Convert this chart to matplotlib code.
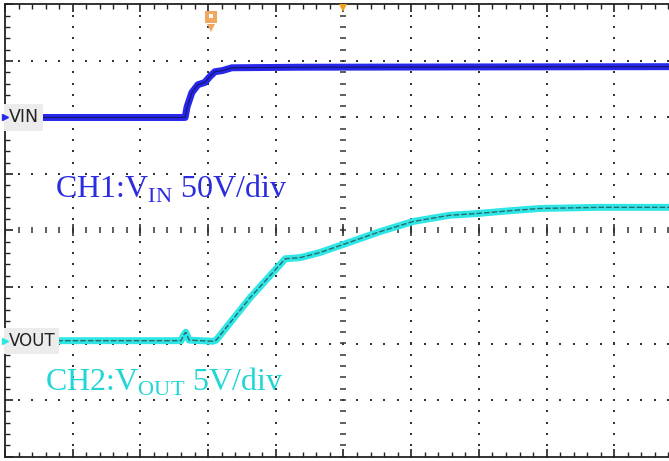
import numpy as np
import matplotlib.pyplot as plt
from matplotlib import ticker

vin_x = [0.41, 2.63, 2.66, 2.69, 2.76, 2.85, 2.95, 3.03, 3.10, 3.21, 3.35, 4.36, 9.9]
vin_y = [2.00, 2.00, 2.00, 2.19, 2.44, 2.58, 2.62, 2.73, 2.81, 2.83, 2.88, 2.89, 2.90]

vout_x = [0.66, 2.60, 2.64, 2.67, 2.72, 3.07, 3.12, 3.62, 4.14, 4.36, 4.65, 4.99,
          5.54, 6.03, 6.57, 6.97, 7.46, 7.90, 8.79, 9.9]
vout_y = [-1.95, -1.95, -1.85, -1.80, -1.94, -1.96, -1.94, -1.19, -0.50, -0.48, -0.39, -0.25,
          -0.02, 0.16, 0.27, 0.30, 0.35, 0.39, 0.41, 0.41]

ch1_label = 'CH1:V$_{\\mathrm{IN}}$ 50V/div'
ch2_label = 'CH2:V$_{\\mathrm{OUT}}$ 5V/div'

plt.rcParams['mathtext.fontset'] = 'custom'
plt.rcParams['mathtext.rm'] = 'Liberation Serif'

fig = plt.figure(figsize=(6.69, 4.61), dpi=100)
# right edge of the screen is cut off in the capture
ax = fig.add_axes([5 / 669, 4.5 / 461, 677 / 669, 452 / 461])
ax.set_xlim(0, 10)
ax.set_ylim(-4, 4)

for s in ['top', 'left', 'bottom', 'right']:
    ax.spines[s].set_color('#222222')
    ax.spines[s].set_linewidth(1.3)

ax.xaxis.set_major_locator(ticker.MultipleLocator(1))
ax.xaxis.set_minor_locator(ticker.MultipleLocator(0.2))
ax.yaxis.set_major_locator(ticker.MultipleLocator(1))
ax.yaxis.set_minor_locator(ticker.MultipleLocator(0.2))
ax.tick_params(which='both', direction='in', top=True, right=False,
               labelbottom=False, labelleft=False, color='#222222')
ax.tick_params(which='major', length=6, width=1.2)
ax.tick_params(which='minor', length=3.5, width=1.0)

# dotted graticule
minor_x = np.arange(0, 10.01, 0.2)
minor_y = np.arange(-4, 4.01, 0.2)
for gx in [1, 2, 3, 4, 6, 7, 8, 9]:
    ax.plot(np.full_like(minor_y, gx), minor_y, ls='none', marker='s',
            ms=1.6, mew=0, color='#333333', zorder=1)
for gy in [-3, -2, -1, 1, 2, 3]:
    ax.plot(minor_x, np.full_like(minor_x, gy), ls='none', marker='s',
            ms=1.6, mew=0, color='#333333', zorder=1)

# centre cross with tick marks
ax.plot(minor_x, np.zeros_like(minor_x), ls='none', marker='|', ms=4.5,
        mew=1.1, color='#333333', zorder=1)
ax.plot(np.arange(0, 10.01, 1), np.zeros(11), ls='none', marker='|', ms=8,
        mew=1.2, color='#333333', zorder=1)
ax.plot(np.full_like(minor_y, 5), minor_y, ls='none', marker='_', ms=4.5,
        mew=1.1, color='#333333', zorder=1)

# traces
ax.plot(vin_x, vin_y, color='#2626ec', lw=5, solid_capstyle='butt', zorder=3)
ax.plot(vin_x, vin_y, color='#181870', lw=0.9, zorder=4)
ax.plot(vout_x, vout_y, color='#2ee6e6', lw=5, solid_capstyle='butt', zorder=3)
ax.plot(vout_x, vout_y, color='#2a6a6a', lw=1.0, ls=(0, (4, 1.5)), zorder=4)

# channel markers at the left edge
ax.text(0.05, 2.0, 'VIN', ha='left', va='center', fontsize=12.5,
        family='DejaVu Sans', color='#222222', zorder=5,
        bbox=dict(facecolor='#ececec', edgecolor='none', pad=3))
ax.text(0.05, -1.96, 'VOUT', ha='left', va='center', fontsize=12,
        family='DejaVu Sans', color='#222222', zorder=5,
        bbox=dict(facecolor='#ececec', edgecolor='none', pad=3))
ax.plot([0.0], [2.0], marker='>', ms=4, color='#2a2ae8', clip_on=False, zorder=6)
ax.plot([0.0], [-1.96], marker='>', ms=4, color='#2ee4e4', clip_on=False, zorder=6)

# trigger position markers
ax.plot([3.04], [3.77], marker='s', ms=9, color='#f0a860', mew=0, zorder=5)
ax.plot([3.04], [3.58], marker='v', ms=6, color='#f0a860', mew=0, zorder=5)
ax.plot([3.04], [3.79], marker='s', ms=3.5, color='white', mew=0, zorder=6)
ax.plot([5.0], [3.93], marker='v', ms=6, color='#f0a020', mew=0, zorder=5)

ax.text(0.74, 0.58, ch1_label, fontsize=23, family='Liberation Serif',
        color='#2b2be0', ha='left', va='baseline', zorder=5)
ax.text(0.59, -2.83, ch2_label, fontsize=23, family='Liberation Serif',
        color='#22d6d6', ha='left', va='baseline', zorder=5)

fig.savefig('out.png', dpi=100)
